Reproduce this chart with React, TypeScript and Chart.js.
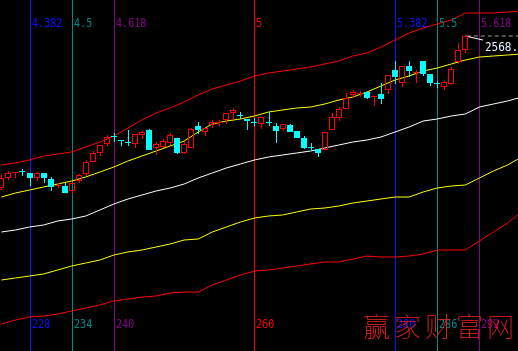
import { useEffect, useRef } from 'react';
import { Chart, registerables } from 'chart.js';

Chart.register(...registerables);

// ---- Candles (bar index 224..290) ----
const candleStart = 224;
const opens = [2266, 2286, 2296, 2299, 2294, 2286, 2294, 2282, 2270, 2268, 2260, 2280, 2294, 2318, 2336, 2354, 2369, 2361, 2357, 2354, 2372, 2380, 2346, 2348, 2356, 2364, 2336, 2346, 2388, 2378, 2392, 2396, 2402, 2416, 2411, 2402, 2397, 2394, 2397, 2388, 2384, 2390, 2378, 2364, 2347, 2342, 2342, 2382, 2406, 2424, 2452, 2454, 2456, 2448, 2452, 2462, 2500, 2476, 2508, 2496, 2518, 2492, 2475, 2468, 2474, 2518, 2542];
const highs = [2290, 2298, 2296, 2302, 2294, 2296, 2294, 2286, 2274, 2274, 2274, 2292, 2320, 2338, 2350, 2370, 2374, 2361, 2380, 2372, 2378, 2382, 2356, 2362, 2374, 2364, 2358, 2384, 2396, 2384, 2400, 2400, 2414, 2424, 2416, 2402, 2404, 2406, 2416, 2394, 2392, 2392, 2378, 2368, 2354, 2342, 2376, 2414, 2426, 2454, 2460, 2458, 2456, 2448, 2474, 2490, 2518, 2508, 2518, 2500, 2518, 2492, 2478, 2478, 2506, 2554, 2568];
const lows = [2262, 2282, 2286, 2290, 2270, 2280, 2276, 2260, 2266, 2256, 2254, 2276, 2290, 2318, 2330, 2350, 2358, 2350, 2350, 2346, 2364, 2342, 2332, 2346, 2352, 2334, 2334, 2346, 2374, 2370, 2386, 2390, 2394, 2402, 2404, 2382, 2390, 2384, 2390, 2356, 2380, 2378, 2366, 2344, 2340, 2328, 2342, 2382, 2400, 2424, 2446, 2448, 2444, 2430, 2434, 2454, 2474, 2468, 2488, 2476, 2490, 2470, 2466, 2462, 2472, 2514, 2536];
const closes = [2284, 2294, 2296, 2298, 2286, 2294, 2286, 2268, 2270, 2256, 2274, 2290, 2316, 2334, 2350, 2366, 2368, 2360, 2356, 2372, 2376, 2342, 2352, 2358, 2370, 2336, 2352, 2382, 2382, 2384, 2396, 2396, 2414, 2420, 2410, 2400, 2396, 2406, 2396, 2380, 2392, 2378, 2366, 2346, 2346, 2336, 2376, 2406, 2422, 2444, 2456, 2454, 2446, 2448, 2444, 2490, 2488, 2508, 2500, 2496, 2494, 2476, 2474, 2476, 2502, 2540, 2568];

// ---- Bands (sampled every 2 bars) ----
const bandX = [224, 226, 228, 230, 232, 234, 236, 238, 240, 242, 244, 246, 248, 250, 252, 254, 256, 258, 260, 262, 264, 266, 268, 270, 272, 274, 276, 278, 280, 282, 284, 286, 288, 290, 292, 294, 296, 298];
const upperRed = [2310, 2314, 2320, 2328, 2332, 2336, 2346, 2356, 2368, 2384, 2400, 2414, 2424, 2436, 2450, 2462, 2470, 2478, 2488, 2494, 2498, 2502, 2506, 2512, 2518, 2528, 2534, 2546, 2560, 2574, 2584, 2592, 2600, 2614, 2614, 2614, 2616, 2618];
const upperYellow = [2246, 2254, 2260, 2266, 2272, 2278, 2286, 2296, 2306, 2318, 2328, 2338, 2348, 2358, 2376, 2392, 2398, 2402, 2408, 2416, 2420, 2424, 2426, 2432, 2440, 2446, 2456, 2468, 2480, 2488, 2498, 2504, 2512, 2520, 2526, 2528, 2530, 2532];
const middleWhite = [2176, 2180, 2186, 2190, 2198, 2202, 2208, 2220, 2232, 2242, 2250, 2258, 2264, 2272, 2284, 2294, 2304, 2312, 2320, 2326, 2330, 2334, 2338, 2344, 2350, 2356, 2360, 2366, 2376, 2386, 2398, 2402, 2408, 2412, 2426, 2432, 2438, 2446];
const lowerYellow = [2080, 2084, 2088, 2092, 2100, 2108, 2114, 2120, 2130, 2136, 2140, 2146, 2152, 2160, 2162, 2176, 2186, 2196, 2204, 2208, 2210, 2216, 2222, 2224, 2228, 2234, 2238, 2242, 2246, 2246, 2256, 2264, 2268, 2270, 2284, 2298, 2310, 2326];
const lowerRed = [1992, 2000, 2006, 2008, 2012, 2018, 2024, 2030, 2038, 2042, 2046, 2048, 2054, 2056, 2056, 2070, 2080, 2090, 2098, 2100, 2104, 2108, 2112, 2116, 2116, 2122, 2128, 2126, 2126, 2128, 2132, 2140, 2140, 2140, 2158, 2176, 2194, 2216];

// ---- Fibonacci time lines ----
const fibBars = [228, 234, 240, 260, 280, 286, 292];
const fibRatios = ['4.382', '4.5', '4.618', '5', '5.382', '5.5', '5.618'];
const fibColors = ['#1010ff', '#008b8b', '#8b008b', '#ff0000', '#1010ff', '#008b8b', '#8b008b'];

// ---- Highest-price marker ----
const markerX = [290, 292.5];
const markerY = [2568, 2560];
const dashX = [290.2, 298];
const highLabel = '2568.22';

const watermark = '赢家财富网';

const UP = '#ff0000';
const DOWN = '#00ffff';

const drawPlugin = {
  id: 'tdx',
  beforeDraw(chart: any) {
    const ctx = chart.ctx;
    ctx.save();
    ctx.fillStyle = '#000';
    ctx.fillRect(0, 0, chart.width, chart.height);
    ctx.restore();
  },
  beforeDatasetsDraw(chart: any) {
    const ctx = chart.ctx;
    const xs = chart.scales.x;
    ctx.save();
    fibBars.forEach((b, i) => {
      const x = Math.round(xs.getPixelForValue(b)) + 0.5;
      ctx.strokeStyle = fibColors[i];
      ctx.lineWidth = 1;
      ctx.beginPath();
      ctx.moveTo(x, 0);
      ctx.lineTo(x, chart.height);
      ctx.stroke();
    });
    ctx.restore();
  },
  afterDatasetsDraw(chart: any) {
    const ctx = chart.ctx;
    const xs = chart.scales.x;
    const ys = chart.scales.y;
    ctx.save();
    // candles
    for (let i = 0; i < opens.length; i++) {
      const b = candleStart + i;
      const o = opens[i], h = highs[i], l = lows[i], c = closes[i];
      const up = c >= o;
      const cx = Math.round(xs.getPixelForValue(b));
      const x0 = cx - 3;
      const yH = Math.round(ys.getPixelForValue(h));
      const yL = Math.round(ys.getPixelForValue(l));
      const yT = Math.round(ys.getPixelForValue(Math.max(o, c)));
      const yB = Math.round(ys.getPixelForValue(Math.min(o, c)));
      const col = up ? UP : DOWN;
      ctx.fillStyle = col;
      ctx.strokeStyle = col;
      ctx.lineWidth = 1;
      if (yB - yT < 1) {
        ctx.fillRect(cx, yH, 1, yL - yH + 1);
        ctx.fillRect(x0, yT, 6, 1);
      } else if (up) {
        if (yT > yH) ctx.fillRect(cx, yH, 1, yT - yH);
        if (yL > yB) ctx.fillRect(cx, yB + 1, 1, yL - yB);
        ctx.strokeRect(x0 + 0.5, yT + 0.5, 5, yB - yT);
      } else {
        ctx.fillRect(cx, yH, 1, yL - yH + 1);
        ctx.fillRect(x0, yT, 6, yB - yT + 1);
      }
    }
    // fib labels
    ctx.textBaseline = 'alphabetic';
    ctx.font = '12px "DejaVu Sans Mono"';
    fibBars.forEach((b, i) => {
      const x = Math.round(xs.getPixelForValue(b)) + 2;
      ctx.fillStyle = fibColors[i];
      ctx.save();
      ctx.translate(x, 27);
      ctx.scale(0.84, 1);
      ctx.fillText(fibRatios[i], 0, 0);
      ctx.restore();
      ctx.save();
      ctx.translate(x, 328);
      ctx.scale(0.84, 1);
      ctx.fillText(String(b), 0, 0);
      ctx.restore();
    });
    // high label
    const lx = xs.getPixelForValue(markerX[1]) + 2;
    const ly = ys.getPixelForValue(markerY[0]) + 15;
    ctx.fillStyle = '#e8f4ff';
    ctx.save();
    ctx.translate(lx, ly);
    ctx.scale(0.92, 1);
    ctx.fillText(highLabel, 0, 0);
    ctx.restore();
    // watermark
    ctx.fillStyle = '#ff2020';
    ctx.font = '100 27px "Noto Sans CJK SC"';
    ctx.textBaseline = 'middle';
    (ctx as any).letterSpacing = '4px';
    ctx.fillText(watermark, 363, 327);
    ctx.restore();
  },
};

export default function App() {
  const ref = useRef<HTMLCanvasElement>(null);
  useEffect(() => {
    document.body.style.margin = '0';
    document.body.style.background = '#000';
    const mk = (ys: number[], color: string) => ({
      data: bandX.map((x, i) => ({ x, y: ys[i] })),
      borderColor: color,
      borderWidth: 1,
      pointRadius: 0,
      tension: 0,
      fill: false,
    });
    const chart = new Chart(ref.current!, {
      type: 'line',
      data: {
        datasets: [
          mk(upperRed, '#ff0000'),
          mk(upperYellow, '#ffff00'),
          mk(middleWhite, '#ffffff'),
          mk(lowerYellow, '#ffff00'),
          mk(lowerRed, '#ff0000'),
          {
            data: markerX.map((x, i) => ({ x, y: markerY[i] })),
            borderColor: '#ffffff',
            borderWidth: 1,
            pointRadius: 0,
            fill: false,
          },
          {
            data: dashX.map((x) => ({ x, y: markerY[0] })),
            borderColor: '#a0a0a0',
            borderWidth: 1,
            borderDash: [4, 3],
            pointRadius: 0,
            fill: false,
          },
        ],
      },
      options: {
        animation: false,
        responsive: false,
        devicePixelRatio: 1,
        layout: { padding: 0 },
        plugins: { legend: { display: false }, tooltip: { enabled: false } },
        scales: {
          x: { type: 'linear', min: 223.8, max: 297.49, bounds: 'data', display: false },
          y: { type: 'linear', min: 1938, max: 2640, bounds: 'data', display: false },
        },
      },
      plugins: [drawPlugin],
    } as any);
    return () => chart.destroy();
  }, []);
  return <canvas ref={ref} width={518} height={351} style={{ display: 'block', width: 518, height: 351 }} />;
}
